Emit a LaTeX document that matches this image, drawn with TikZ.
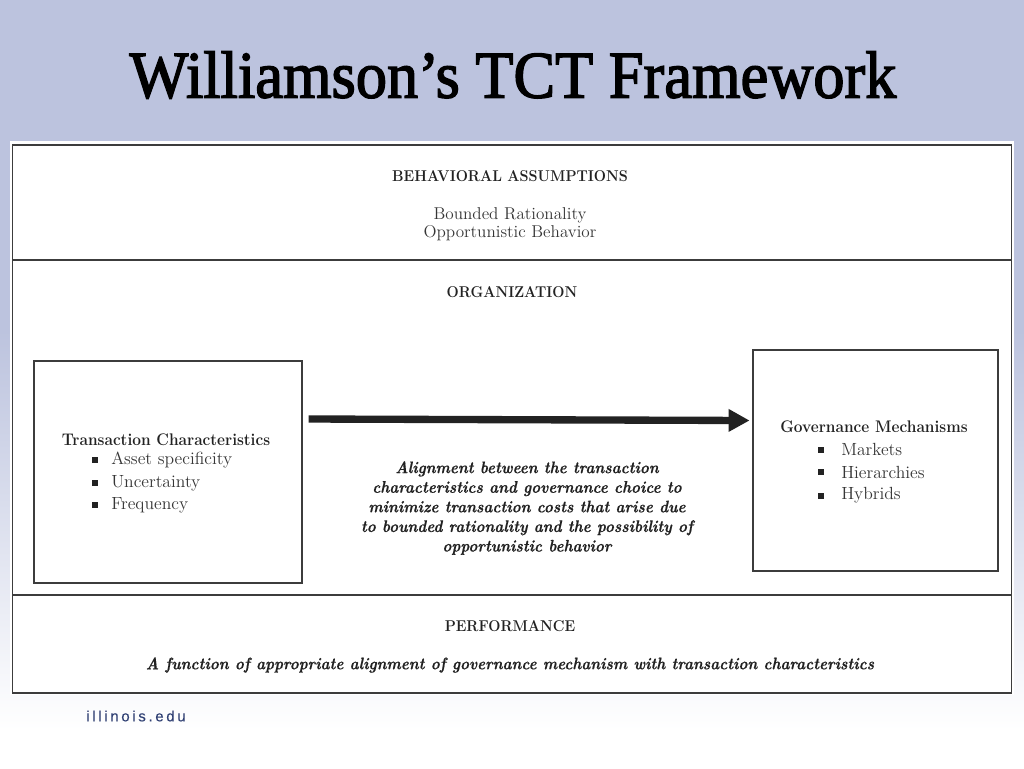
\documentclass[tikz,border=0pt]{standalone}
\usepackage{fontspec}
\usetikzlibrary{arrows.meta}
\setmainfont{Latin Modern Roman}[BoldFeatures={FakeStretch=0.92}, BoldItalicFeatures={FakeStretch=0.905,FakeBold=0.4}]
\newfontfamily\titlefont{Liberation Serif}[FakeBold=2.2]
\newfontfamily\logofont{Liberation Sans}[LetterSpace=18,FakeBold=0.3]
\definecolor{slidetop}{HTML}{BCC3DE}
\definecolor{framegray}{HTML}{3C3C3C}
\definecolor{bodygray}{HTML}{363636}
\definecolor{headgray}{HTML}{222222}
\definecolor{logoblue}{HTML}{2F3F73}
\begin{document}
\begin{tikzpicture}[
                    x=0.75pt, y=-0.75pt,
                    heading/.style={text=headgray, font=\fontsize{12.6}{15}\selectfont\bfseries, inner sep=0pt},
                    capshead/.style={text=headgray, font=\fontsize{11.75}{15}\selectfont\bfseries, inner sep=0pt},
                    body/.style={text=bodygray, font=\fontsize{13.2}{13}\selectfont, inner sep=0pt},
                    note/.style={text=headgray, align=center, font=\fontsize{12.55}{14.7}\selectfont\bfseries\itshape, inner sep=0pt},
                    box/.style={draw=framegray, line width=1.1pt, fill=white},
                    bullet/.style={fill=headgray, minimum size=4.5pt, inner sep=0pt}
                ]
                \useasboundingbox (0,0) rectangle (1024,768);

                % Slide background
                \fill[slidetop] (0,0) rectangle (1024,331);
                \shade[top color=slidetop, bottom color=white] (0,330) rectangle (1024,730);
                \fill[white] (10,141) rectangle (1014,695);
                \node[font=\titlefont\fontsize{50}{50}\selectfont, inner sep=0pt] (title) at (513,75) {\scalebox{0.936}[1]{Williamson’s TCT Framework}};
                \node[font=\logofont\fontsize{11.2}{11}\selectfont, text=logoblue, inner sep=0pt] (logo) at (136,716) {illinois.edu};

                % Frame and rows
                \draw[framegray, line width=0.9pt] (12.5,145) rectangle (1011.5,693);
                \draw[framegray, line width=0.9pt] (12.5,260) -- (1011.5,260);
                \draw[framegray, line width=0.9pt] (12.5,595) -- (1011.5,595);

                % Top row
                \node[capshead] (assume) at (510,176) {BEHAVIORAL ASSUMPTIONS};
                \node[body, font=\fontsize{12.85}{13}\selectfont] (bounded) at (510,215) {Bounded Rationality};
                \node[body, font=\fontsize{12.85}{13}\selectfont] (opport) at (510,233) {Opportunistic Behavior};

                % Middle row
                \node[capshead] (org) at (512,292) {ORGANIZATION};
                \node[box, minimum width=201pt, minimum height=166.5pt] (trans) at (168,472) {};
                \node[box, minimum width=184pt, minimum height=166pt] (gov) at (875.5,460.5) {};
                \node[heading] (transhead) at (166,440) {Transaction Characteristics};
                \node[heading] (govhead) at (874,427) {Governance Mechanisms};

                \foreach \name/\xb/\xt/\yt/\txt in {asset/95/111/460/Asset specificity, uncert/95/111/483/Uncertainty, freq/95/111/505/Frequency, markets/821/841/449.5/Markets, hier/821/841/472/Hierarchies, hybrids/821/841/495.5/Hybrids}
                {
                    \node[bullet] (b\name) at (\xb,\yt) {};
                    \node[body, anchor=west] (\name) at (\xt,\yt) {\txt};
                }

                % Connection
                \draw[-{Triangle[length=15.7pt, width=16pt]}, line width=5.5pt, color=headgray] ([shift={(6,-53)}]trans.east) -- ([shift={(-2.5,-40)}]gov.west);

                \node[note] (align) at (527,508) {Alignment between the transaction\\characteristics and governance choice to\\minimize transaction costs that arise due\\to bounded rationality and the possibility of\\opportunistic behavior};

                % Bottom row
                \node[capshead] (perf) at (510,626) {PERFORMANCE};
                \node[note] (func) at (510,665) {A function of appropriate alignment of governance mechanism with transaction characteristics};
            \end{tikzpicture}
\end{document}
